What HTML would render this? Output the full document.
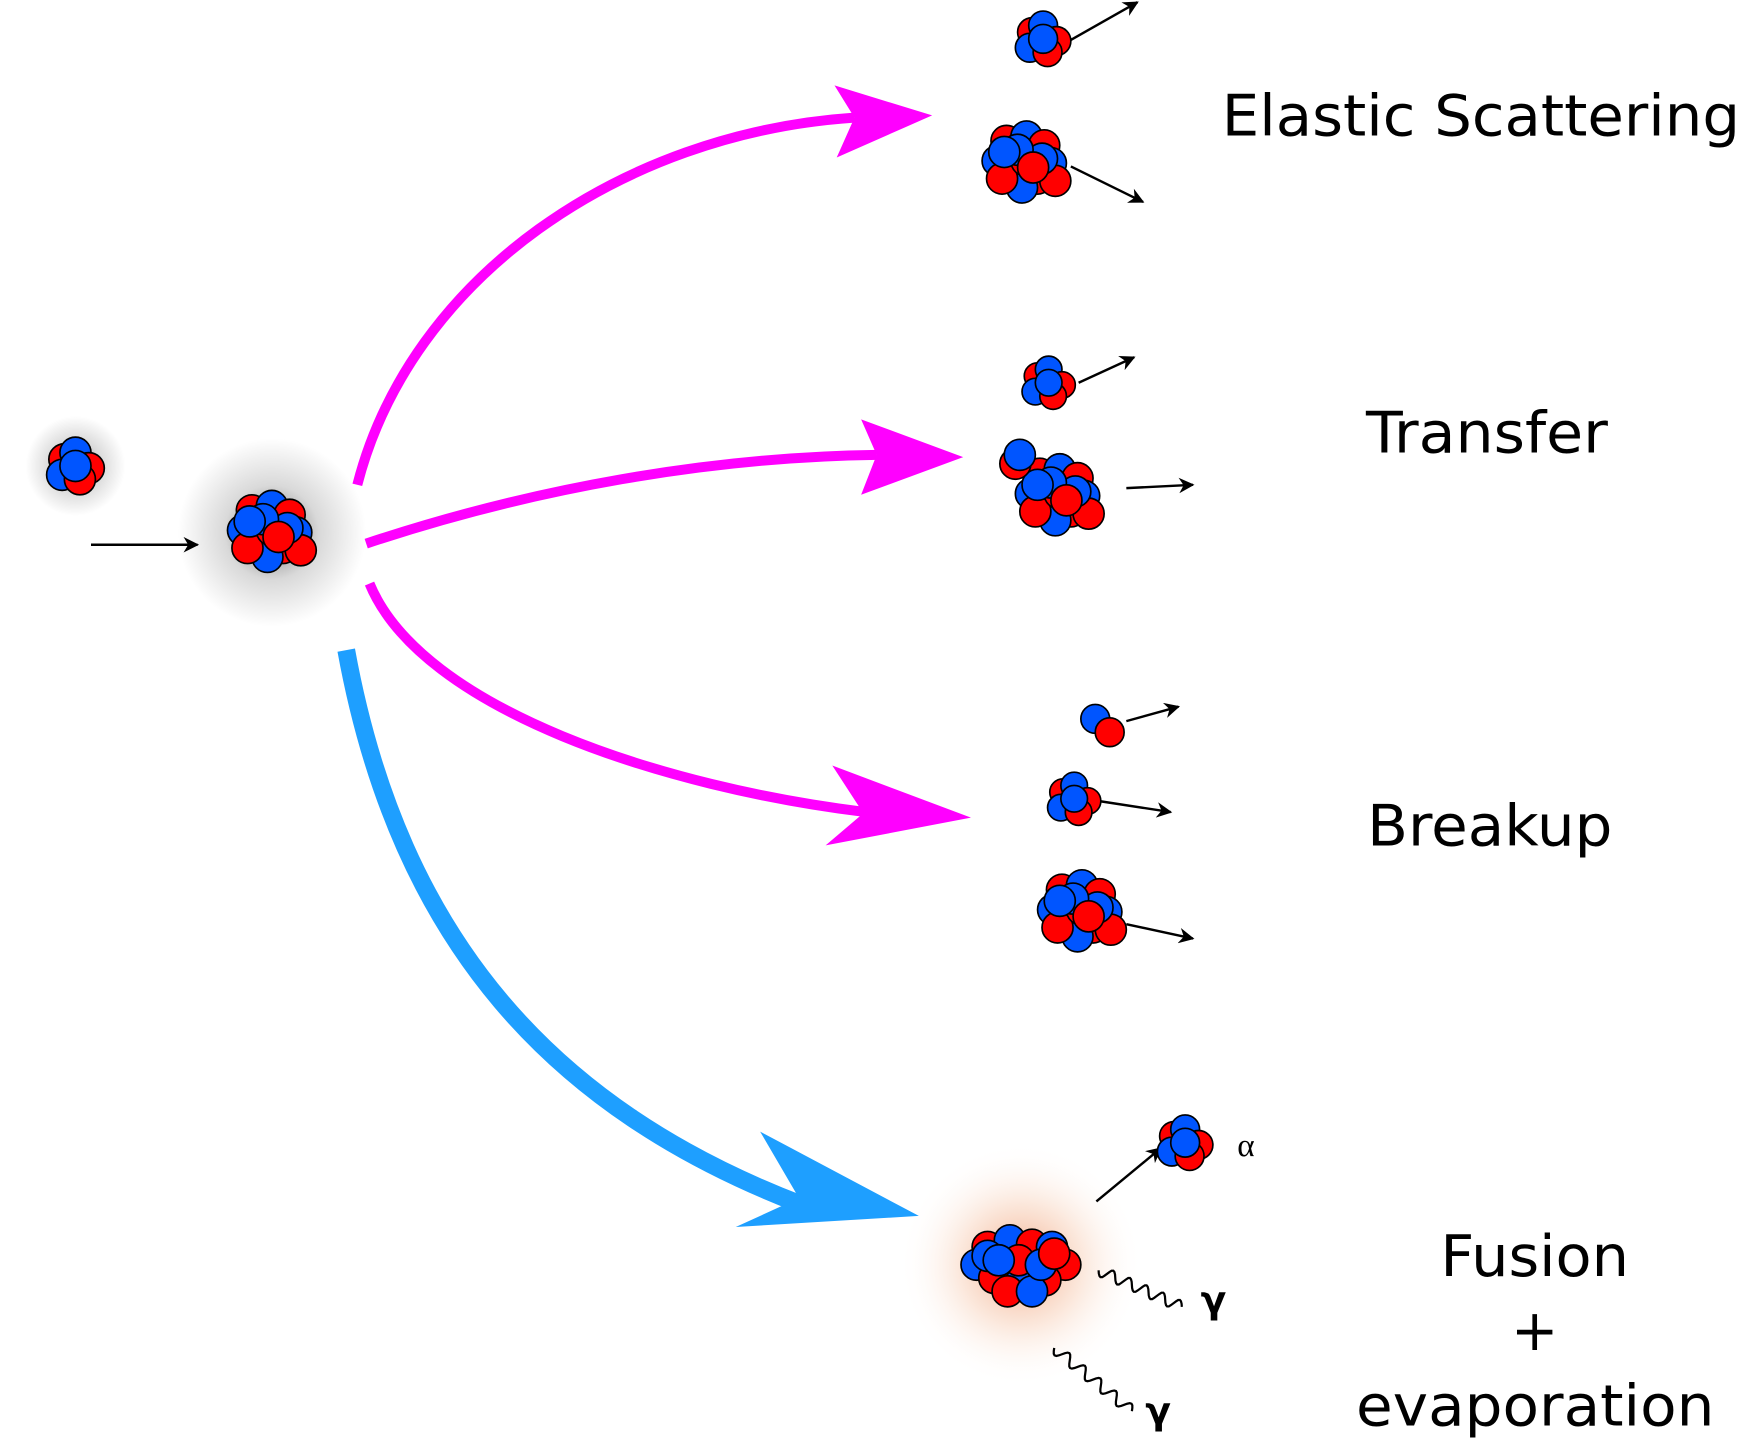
<!DOCTYPE html>
<html><head><meta charset="utf-8"><style>
html,body{margin:0;padding:0;background:#fff;width:1740px;height:1450px;overflow:hidden}
svg{display:block}
text{font-family:"DejaVu Sans","Liberation Sans",sans-serif;fill:#000}
</style></head><body>
<svg id="s" width="1740" height="1450" viewBox="0 0 1568 1307" preserveAspectRatio="none">
<defs>
<radialGradient id="gg"><stop offset="0" stop-color="#000" stop-opacity="0.55"/><stop offset="0.5" stop-color="#000" stop-opacity="0.15"/><stop offset="1" stop-color="#000" stop-opacity="0"/></radialGradient>
<radialGradient id="og"><stop offset="0" stop-color="#e8703a" stop-opacity="0.6"/><stop offset="0.5" stop-color="#f0a070" stop-opacity="0.25"/><stop offset="1" stop-color="#fff" stop-opacity="0"/></radialGradient>
<marker id="ah" viewBox="0 0 10 10" refX="9" refY="5" markerWidth="16" markerHeight="14" orient="auto" markerUnits="userSpaceOnUse"><path d="M0,0 L10,5 L0,10 L3,5 z" fill="#000"/></marker>
</defs>
<circle cx="68" cy="420" r="45" fill="url(#gg)"/>
<circle cx="245" cy="480" r="85" fill="url(#gg)"/>
<circle cx="920" cy="1140" r="110" fill="url(#og)"/>

<g>
<path d="M322,437 C370,250 560,120 770,106" fill="none" stroke="#ff00ff" stroke-width="9"/>
<path d="M752,77 L840,104 L754,142 L770,106 z" fill="#ff00ff"/></g>
<g>
<path d="M330,490 C480,440 640,412 790,410" fill="none" stroke="#ff00ff" stroke-width="9"/>
<path d="M776,378 L868,412 L776,446 L790,410 z" fill="#ff00ff"/></g>
<g>
<path d="M333,526 C380,640 600,710 780,732" fill="none" stroke="#ff00ff" stroke-width="9"/>
<path d="M750,690 L875,737 L744,762 L778,733 z" fill="#ff00ff"/></g>
<g>
<path d="M312,586 C360,850 500,1000 720,1085" fill="none" stroke="#1e9fff" stroke-width="16"/>
<path d="M685,1020 L828,1096 L663,1106 L720,1080 z" fill="#1e9fff"/></g>

<g id="arrows"></g>
<g id="nuc"></g>

<path id="w1" fill="none" stroke="#000" stroke-width="2"/>
<path id="w2" fill="none" stroke="#000" stroke-width="2"/>

<text x="1101" y="122" font-size="51" textLength="467" lengthAdjust="spacingAndGlyphs">Elastic Scattering</text>
<text x="1231" y="408" font-size="51" textLength="218" lengthAdjust="spacingAndGlyphs">Transfer</text>
<text x="1232" y="762" font-size="51" textLength="221" lengthAdjust="spacingAndGlyphs">Breakup</text>
<text x="1298" y="1150" font-size="51" textLength="170" lengthAdjust="spacingAndGlyphs">Fusion</text>
<text x="1383" y="1217" font-size="51" text-anchor="middle">+</text>
<text x="1222" y="1285" font-size="51" textLength="323" lengthAdjust="spacingAndGlyphs">evaporation</text>
<text x="1115" y="1042" font-size="30" style="font-family:'Liberation Serif',serif">α</text>
<text x="1082" y="1183" font-size="34" font-weight="bold">γ</text>
<text x="1032" y="1283" font-size="34" font-weight="bold">γ</text>
</svg>
<script>
var NS="http://www.w3.org/2000/svg";
var small=[[-10,-6,1],[0,-12,0],[12,2,1],[-12,8,0],[4,12,1],[0,0,0]];
var big=[[-18,-18,1],[0,-22,0],[16,-14,1],[-26,0,0],[22,2,0],[-14,12,1],[10,16,1],[26,18,1],[-4,24,0],[-22,16,1],[0,0,1],[14,-2,0],[-8,-10,0],[-20,-8,0],[6,6,1]];
var wide=[[-30,-16,1],[-10,-22,0],[10,-18,1],[28,-16,0],[-40,0,0],[40,0,1],[-24,12,1],[0,16,0],[22,14,1],[-12,24,1],[10,24,0],[-30,-8,0],[-2,-4,1],[18,0,0],[30,-10,1],[-20,-4,0]];
var clusters=[[68,420,small,14],[245,478,big,14],[940,35,small,13],[925,145,big,14],[945,345,small,12],[955,445,big,14],[915,418,[[0,0,1],[4,-8,0]],14],[968,720,small,12],[975,820,big,14],[1068,1030,small,13],[920,1140,wide,14]];
var nuc=document.getElementById('nuc');
clusters.forEach(function(c){
  c[2].forEach(function(o){
    var e=document.createElementNS(NS,'circle');
    
    
    e.setAttribute('cx',c[0]+o[0]);e.setAttribute('cy',c[1]+o[1]);e.setAttribute('r',c[3]);
    e.setAttribute('fill',o[2]?'#ff0000':'#0055ff');e.setAttribute('stroke','#000');e.setAttribute('stroke-width','1.5');
    nuc.appendChild(e);
  });
});
[[987,648,0],[1000,660,1]].forEach(function(o){
  var e=document.createElementNS(NS,'circle');
  
  
  e.setAttribute('cx',o[0]);e.setAttribute('cy',o[1]);e.setAttribute('r',13);
  e.setAttribute('fill',o[2]?'#ff0000':'#0055ff');e.setAttribute('stroke','#000');e.setAttribute('stroke-width','1.5');
  nuc.appendChild(e);
});
var arr=[[82,491,178,491],[965,36,1025,2],[965,150,1030,182],[972,345,1022,322],[1015,440,1075,437],[1015,650,1062,637],[990,722,1055,732],[1015,833,1075,846],[988,1083,1046,1035]];
var ag=document.getElementById('arrows');
arr.forEach(function(a){
  var l=document.createElementNS(NS,'line');
  
  
  l.setAttribute('x1',a[0]);l.setAttribute('y1',a[1]);l.setAttribute('x2',a[2]);l.setAttribute('y2',a[3]);
  l.setAttribute('stroke','#000');l.setAttribute('stroke-width','2.2');l.setAttribute('marker-end','url(#ah)');
  ag.appendChild(l);
});
function wave(id,x1,y1,x2,y2){
  var dx=x2-x1,dy=y2-y1,L=Math.sqrt(dx*dx+dy*dy),ux=dx/L,uy=dy/L,d='';
  for(var i=0;i<=60;i++){var t=i/60,s=Math.sin(t*Math.PI*10)*5;
    d+=(i?'L':'M')+(x1+dx*t-uy*s).toFixed(1)+','+(y1+dy*t+ux*s).toFixed(1);}
  document.getElementById(id).setAttribute('d',d);
}
wave('w1',990,1145,1065,1178);wave('w2',950,1215,1020,1272);
</script>
</body></html>
